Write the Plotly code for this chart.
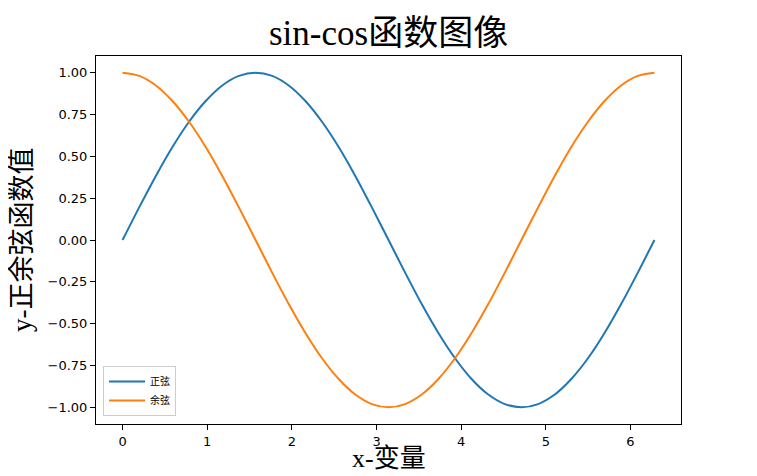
import plotly.graph_objects as go

x_vals = [0.000, 0.196, 0.393, 0.589, 0.785, 0.982, 1.178, 1.374, 1.571, 1.767, 1.963, 2.160, 2.356, 2.553, 2.749, 2.945,
          3.142, 3.338, 3.534, 3.731, 3.927, 4.123, 4.320, 4.516, 4.712, 4.909, 5.105, 5.301, 5.498, 5.694, 5.890, 6.087, 6.283]
sin_vals = [0.000, 0.195, 0.383, 0.556, 0.707, 0.831, 0.924, 0.981, 1.000, 0.981, 0.924, 0.831, 0.707, 0.556, 0.383, 0.195,
            0.000, -0.195, -0.383, -0.556, -0.707, -0.831, -0.924, -0.981, -1.000, -0.981, -0.924, -0.831, -0.707, -0.556, -0.383, -0.195, 0.000]
cos_vals = [1.000, 0.981, 0.924, 0.831, 0.707, 0.556, 0.383, 0.195, 0.000, -0.195, -0.383, -0.556, -0.707, -0.831, -0.924, -0.981,
            -1.000, -0.981, -0.924, -0.831, -0.707, -0.556, -0.383, -0.195, 0.000, 0.195, 0.383, 0.556, 0.707, 0.831, 0.924, 0.981, 1.000]
series_names = ["正弦", "余弦"]
x_ticks = [0, 1, 2, 3, 4, 5, 6]
y_ticks = [1.00, 0.75, 0.50, 0.25, 0.00, -0.25, -0.50, -0.75, -1.00]
title_text = "sin-cos函数图像"
x_label = "x-变量"
y_label = "y-正余弦函数值"

serif = "Liberation Serif, 'Noto Sans CJK SC', serif"
cjk = "'Noto Sans CJK SC', sans-serif"

fig = go.Figure()
fig.add_trace(go.Scatter(x=x_vals, y=sin_vals, mode="lines", name=series_names[0],
                         line=dict(color="#1f77b4", width=2, shape="spline", smoothing=0.8)))
fig.add_trace(go.Scatter(x=x_vals, y=cos_vals, mode="lines", name=series_names[1],
                         line=dict(color="#ff7f0e", width=2, shape="spline", smoothing=0.8)))

axis_common = dict(showgrid=False, zeroline=False, showline=True, linecolor="black", linewidth=1,
                   mirror=True, ticks="outside", ticklen=5, tickcolor="black", tickwidth=1, automargin=False,
                   tickfont=dict(family="DejaVu Sans", size=13, color="black"))

fig.update_layout(
    width=749, height=468,
    margin=dict(l=88, r=76, t=48, b=52),
    paper_bgcolor="white", plot_bgcolor="white",
    xaxis=dict(range=[-0.314, 6.597], tickvals=x_ticks, ticktext=[str(t) for t in x_ticks], **axis_common),
    yaxis=dict(range=[-1.1, 1.1], tickvals=y_ticks, ticktext=[f"{v:.2f}".replace("-", "−") for v in y_ticks],
               **axis_common),
    legend=dict(x=0.012, y=0.022, xanchor="left", yanchor="bottom", itemwidth=36,
                bordercolor="#cccccc", borderwidth=1, bgcolor="rgba(255,255,255,0.8)",
                font=dict(family=cjk, size=10, color="black"), tracegroupgap=0),
    showlegend=True,
    annotations=[
        dict(text=title_text, x=0.5, y=1, xref="paper", yref="paper", xanchor="center", yanchor="bottom",
             yshift=1, showarrow=False, font=dict(family=serif, size=35, color="black")),
        dict(text=x_label, x=0.5, y=0, xref="paper", yref="paper", xanchor="center", yanchor="bottom",
             yshift=-51, showarrow=False, font=dict(family=serif, size=26, color="black")),
        dict(text=y_label, x=0, y=0.5, xref="paper", yref="paper", xanchor="right", yanchor="middle",
             xshift=-57, textangle=-90, showarrow=False, font=dict(family=serif, size=27, color="black")),
    ],
)

fig.write_html("out.html")
